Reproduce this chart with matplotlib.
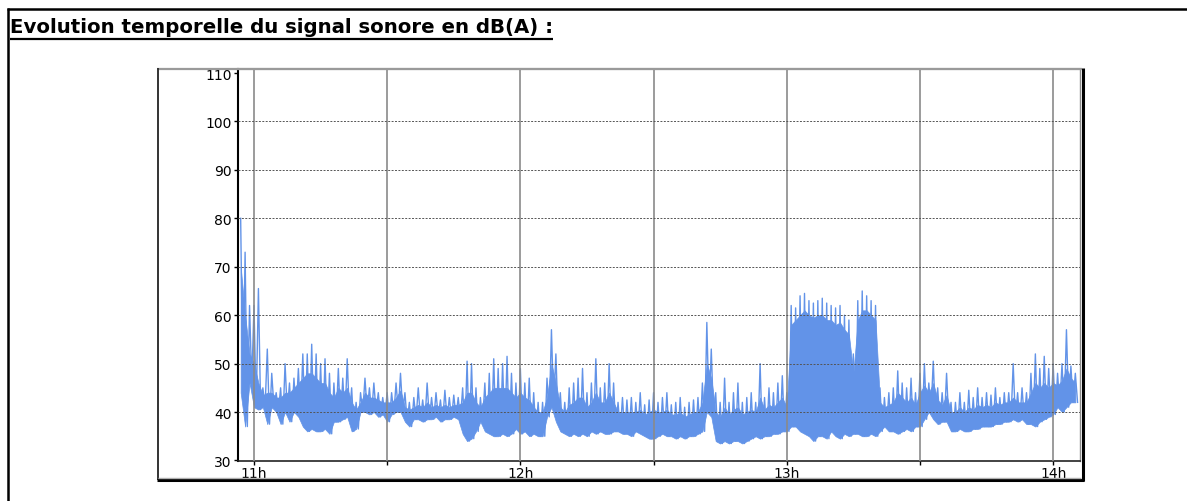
import matplotlib
matplotlib.use("Agg")
import matplotlib.pyplot as plt
from matplotlib.lines import Line2D
import numpy as np

plt.rcParams['font.family'] = ['DejaVu Sans']

# one sample per minute, first one at 10:57
start_min = 10 * 60 + 57

# per-minute peak level, dB(A)
level_max = [
    80, 73, 62, 62, 65.5, 45, 53, 48, 44, 45,
    50, 46, 47, 49, 52, 52, 54, 52, 50, 51,
    48, 46, 49, 47, 51, 45, 42, 44, 47, 45,
    46, 44, 43, 44, 44, 46, 48, 44, 42, 43,
    45, 42.5, 46, 43, 44, 42.5, 44.5, 43, 43.5, 43,
    45, 50.5, 50, 45, 43, 46, 48, 51, 49, 50,
    51.5, 48, 46, 49, 46, 47, 44, 42, 42, 47,
    57, 52, 44, 42, 45, 46, 47, 49, 44, 46,
    51, 45, 46, 50, 46, 42, 43, 42.5, 43, 42,
    44, 41.5, 42.5, 44, 42, 43, 44, 41.5, 42, 43,
    41, 42, 42.5, 43, 46, 58.5, 53, 44, 42, 47,
    42, 44, 46, 42, 43, 44, 42, 50, 43, 45,
    44, 46, 47.5, 44, 62, 61.5, 64, 64.5, 63, 62.5,
    63, 63.5, 62.5, 62, 61.5, 62, 60, 59, 52, 63,
    65, 64, 63, 62, 45, 43, 44, 45, 48.5, 46,
    45, 47, 44, 48, 50, 46, 50.5, 45, 44, 48,
    42, 42, 44, 42, 44.5, 43, 45, 43, 44, 43.5,
    45, 43, 44, 44, 50, 44, 45, 44, 48, 52,
    49, 51.5, 49, 50, 48, 50, 57, 49.5, 48,
]

# per-minute top of the dense part of the trace, dB(A)
level_core = [
    70, 60, 52, 50, 46, 43.5, 44, 44, 43, 43,
    44, 44, 45, 46, 47, 48, 48, 47, 46, 46,
    44, 43, 45, 44, 45, 42, 40.5, 42, 44, 43,
    43, 42.5, 42, 42, 42, 43, 44.5, 41, 40.5, 41,
    41.5, 41, 42, 41, 41.5, 41, 41.5, 41, 41.5, 41.5,
    42, 44, 44, 42, 41, 43, 44, 45, 45, 45,
    45, 44, 43, 44, 43, 42.5, 41, 40, 40, 43,
    50, 46, 41, 40, 41.5, 42, 43, 43, 41, 42,
    44, 42, 42, 44, 42, 40, 40, 40, 40, 40,
    40.5, 39.5, 40, 40.5, 40, 40, 40.5, 39.5, 39.5, 40,
    39, 39.5, 40, 40, 42, 50, 47, 40, 39, 41,
    39.5, 40.5, 41, 39.5, 40, 40.5, 40, 43, 40.5, 41.5,
    41, 42, 43, 41, 58, 59, 60, 61, 60, 59.5,
    60, 60, 59, 59, 58, 58.5, 57, 56, 48, 59,
    61, 61, 60, 59, 42, 41, 41.5, 42, 44, 43,
    42, 43, 41.5, 44, 45.5, 44, 46, 42.5, 41.5, 43.5,
    40, 40, 41, 40, 41, 40.5, 41.5, 41, 41.5, 41,
    42, 41.5, 42, 42, 43, 42, 42, 42, 44, 46,
    45, 46, 45, 46, 45.5, 46.5, 49, 47, 46,
]

# per-minute minimum level, dB(A)
level_min = [
    44, 37, 46, 41, 40.5, 41, 37.5, 41, 40, 37.5,
    40, 38, 40, 39, 37, 36, 36.5, 36, 36, 36.5,
    35.5, 38, 38, 38.5, 39, 36, 36.5, 40, 40, 39.5,
    40, 39, 39.5, 38, 39.5, 40, 40, 38, 37, 38.5,
    38.5, 38, 38.5, 38.5, 39, 38, 38.5, 38.5, 39, 38.5,
    35.5, 34, 34.5, 36, 38, 36, 35.5, 35, 35, 35.5,
    35, 35.5, 36.5, 35.5, 36, 35, 35.5, 35, 35, 39,
    41, 38, 36, 35.5, 35, 35.5, 35, 35.5, 35, 36,
    35.5, 36, 35.5, 35.5, 36, 36, 35.5, 35.5, 35, 36,
    35.5, 35, 34.5, 34.5, 35, 35.5, 35, 35, 34.5, 35,
    34.5, 35, 35, 35.5, 36, 40, 39, 34, 33.5, 34,
    33.5, 34, 34, 33.5, 34, 34.5, 35, 34.5, 35, 35,
    35.5, 35.5, 36, 36, 37, 37, 36, 35.5, 35, 34,
    35, 35, 34.5, 36, 35, 34.5, 35.5, 35, 35.5, 35.5,
    35, 35, 35.5, 35, 36, 37, 36, 36, 35.5, 36,
    36.5, 36, 37, 37, 38.5, 40, 38.5, 37.5, 38, 38,
    36, 36, 36.5, 36, 36, 36.5, 36.5, 37, 37, 37,
    37.5, 37.5, 38, 38, 38.5, 38, 38.5, 37.5, 37.5, 37,
    38, 38.5, 39, 39.5, 41, 40, 41, 42, 42,
]

title = "Evolution temporelle du signal sonore en dB(A) :"
hour_ticks = [11, 12, 13, 14]
hour_labels = ["11h", "12h", "13h", "14h"]
half_hours = [11, 11.5, 12, 12.5, 13, 13.5, 14]
db_ticks = list(range(30, 111, 10))
db_grid = list(range(40, 101, 10))

W, H = 1187, 502
fig = plt.figure(figsize=(W / 100, H / 100), dpi=100)


def fx(x):
    return x / W


def fy(y):
    return 1 - y / H


def seg(x0, y0, x1, y1, color, lw):
    fig.add_artist(Line2D([fx(x0), fx(x1)], [fy(y0), fy(y1)], color=color,
                          lw=lw, transform=fig.transFigure,
                          solid_capstyle='butt'))


# page frame
seg(7, 9.5, W, 9.5, 'black', 1.8)
seg(7.5, 9, 7.5, H, 'black', 1.8)

# title, bold and underlined, sized to run from x=10 to x=553
t = fig.text(fx(10), fy(33.5), title, fontsize=13.5, fontweight='bold',
             ha='left', va='baseline')
fig.canvas.draw()
w = t.get_window_extent().width
t.set_fontsize(13.5 * 543 / w)
fig.canvas.draw()
bb = t.get_window_extent()
seg(bb.x0, 39.5, bb.x1, 39.5, 'black', 1.6)

# chart box with dark right/bottom edge
seg(157, 69.5, 1082, 69.5, '#9a9a9a', 1.6)
seg(157.5, 69, 157.5, 481, '#333333', 1.4)
seg(1083, 68.5, 1083, 481.5, 'black', 2.2)
seg(157, 480.5, 1084, 480.5, 'black', 2.2)
seg(158, 478.5, 1081, 478.5, '#b0b0b0', 1.0)

ax = fig.add_axes([fx(238), fy(462.3), (1079.5 - 238) / W, (462.3 - 69.5) / H])

blue = '#6293e8'
n = len(level_max)
tm = (start_min + np.arange(n)) / 60.0

# dense part of the trace
ax.fill_between(tm, level_min, level_core, color=blue, lw=0.5,
                edgecolor=blue, zorder=2)

# peaks: zigzag between each minute's max and min
xs = np.empty(2 * n)
ys = np.empty(2 * n)
xs[0::2] = tm
xs[1::2] = tm + 0.5 / 60
ys[0::2] = level_max
ys[1::2] = level_min
ax.plot(xs, ys, color=blue, lw=1.0, zorder=2)

for h in half_hours:
    ax.axvline(h, color='#8a8a8a', lw=1.2, zorder=3)
for d in db_grid:
    ax.axhline(d, color='#555555', lw=0.7, ls=(0, (2, 1.5)), zorder=3)

ax.set_xlim(10.940, 14.099)
ax.set_ylim(29.83, 110.93)
ax.set_xticks(hour_ticks)
ax.set_xticklabels(hour_labels)
ax.set_xticks([11.5, 12.5, 13.5], minor=True)
ax.set_yticks(db_ticks)
ax.tick_params(axis='both', which='both', direction='out', length=3,
               width=1, color='black', labelsize=10)
ax.tick_params(axis='x', pad=0.5)
ax.tick_params(axis='y', pad=1.5)

ax.spines['left'].set_color('black')
ax.spines['left'].set_linewidth(1.5)
ax.spines['bottom'].set_color('#222222')
ax.spines['bottom'].set_linewidth(1.2)
ax.spines['top'].set_color('#9a9a9a')
ax.spines['top'].set_linewidth(1.5)
ax.spines['right'].set_color('#8a8a8a')
ax.spines['right'].set_linewidth(1.0)

fig.savefig("out.png", dpi=100)
